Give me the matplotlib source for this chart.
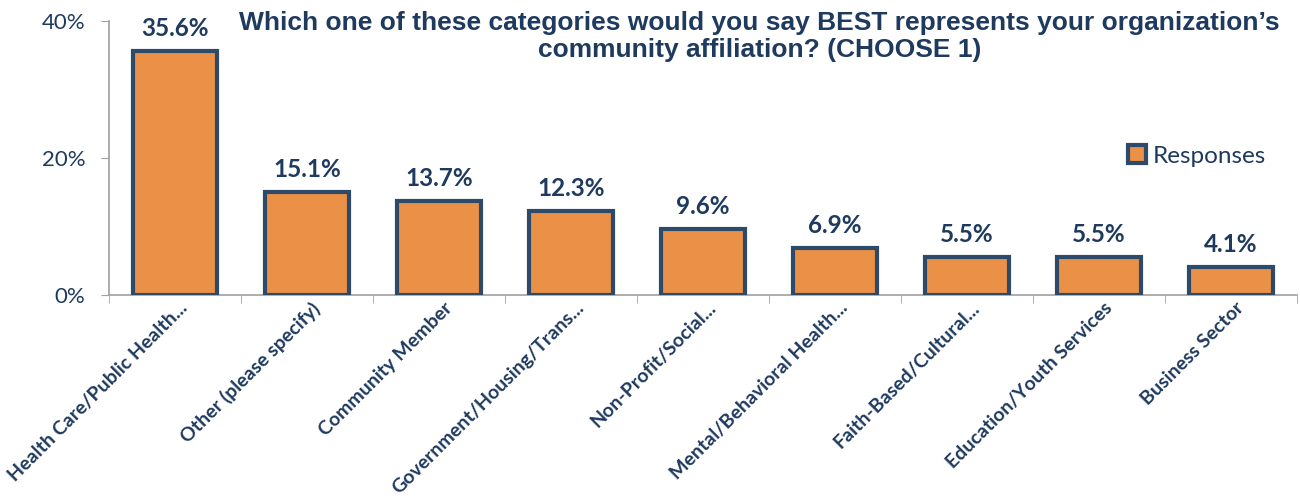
import matplotlib
matplotlib.use("Agg")
import matplotlib.pyplot as plt
import matplotlib.transforms as mtransforms
from matplotlib.ticker import FuncFormatter, MultipleLocator

categories = ["Health Care/Public Health...", "Other (please specify)", "Community Member",
              "Government/Housing/Trans...", "Non-Profit/Social...", "Mental/Behavioral Health...",
              "Faith-Based/Cultural...", "Education/Youth Services", "Business Sector"]
responses = [35.6, 15.1, 13.7, 12.3, 9.6, 6.9, 5.5, 5.5, 4.1]

navy = "#1F3A5F"
edge = "#2E4A6B"
orange = "#EA9047"

fig = plt.figure(figsize=(13, 4.99), dpi=100)
ax = fig.add_axes([0.0838, 0.4088, 0.9139, 0.5492])

x = range(len(categories))
bars = ax.bar(x, responses, width=0.63, color=orange, edgecolor=edge, linewidth=3,
              label="Responses", zorder=3)

for xi, v in zip(x, responses):
    ax.text(xi, v + 1.6, f"{v}%", ha="center", va="bottom", fontsize=17.5,
            fontweight="bold", color=navy, family="Lato")

ax.set_xlim(-0.5, len(categories) - 0.5)
ax.set_ylim(0, 40)
ax.yaxis.set_major_locator(MultipleLocator(20))
ax.yaxis.set_major_formatter(FuncFormatter(lambda v, p: f"{v:.0f}%"))

for s in ["top", "right"]:
    ax.spines[s].set_visible(False)
ax.spines["left"].set_color("#A0A0A0")
ax.spines["bottom"].set_color("#A0A0A0")
ax.spines["left"].set_linewidth(1.2)
ax.spines["bottom"].set_linewidth(1.2)

ax.set_xticks([i - 0.5 for i in range(len(categories) + 1)], minor=True)
ax.set_xticks(list(x))
ax.tick_params(axis="x", which="major", length=0, pad=3)
ax.tick_params(axis="x", which="minor", length=6, color="#A0A0A0", direction="out")
ax.tick_params(axis="y", length=6, color="#A0A0A0", labelsize=16, labelcolor=navy, pad=11)
for lab in ax.get_yticklabels():
    lab.set_family("Lato")

ax.set_xticklabels(categories, rotation=45, ha="right", va="top", rotation_mode="anchor",
                   fontsize=14, fontweight="bold", color=navy, family="Lato")
shift = mtransforms.ScaledTranslation(3 / 72, 0, fig.dpi_scale_trans)
for lab in ax.get_xticklabels():
    lab.set_transform(lab.get_transform() + shift)

fig.text(0.584, 0.978, "Which one of these categories would you say BEST represents your organization\u2019s\ncommunity affiliation? (CHOOSE 1)",
         ha="center", va="top", fontsize=19, fontweight="bold", color=navy,
         family="Liberation Sans", linespacing=1.15)

leg = ax.legend(loc="center left", bbox_to_anchor=(0.839, 0.507), frameon=False,
                handlelength=0.75, handleheight=0.75, handletextpad=0.3,
                prop={"family": "Lato", "size": 17.5})
for t in leg.get_texts():
    t.set_color(navy)

fig.savefig("out.png", dpi=100)
